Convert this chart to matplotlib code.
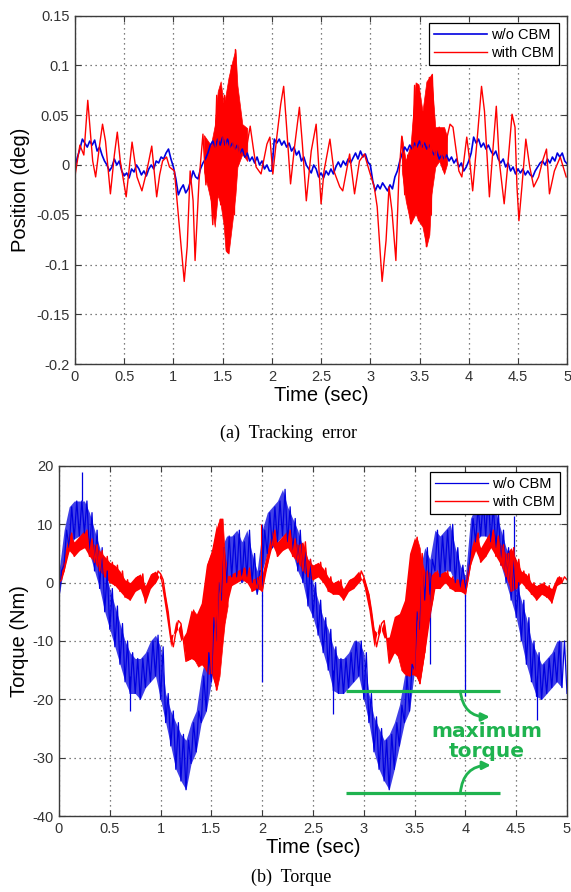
import numpy as np
import matplotlib
matplotlib.use('Agg')
import matplotlib.pyplot as plt

plt.rcParams['font.family'] = ['Liberation Sans', 'DejaVu Sans']

# ---- shared axis data ----
time_ticks = [0, 0.5, 1, 1.5, 2, 2.5, 3, 3.5, 4, 4.5, 5]
time_tick_labels = ['0', '0.5', '1', '1.5', '2', '2.5', '3', '3.5', '4', '4.5', '5']
err_ticks = [0.15, 0.1, 0.05, 0, -0.05, -0.1, -0.15, -0.2]
err_tick_labels = ['0.15', '0.1', '0.05', '0', '-0.05', '-0.1', '-0.15', '-0.2']
torque_ticks = [20, 10, 0, -10, -20, -30, -40]
torque_tick_labels = ['20', '10', '0', '-10', '-20', '-30', '-40']
series_names = ['w/o CBM', 'with CBM']

# sample times of the uniformly sampled traces (every 0.025 s)
t_uniform = np.arange(201) * 0.025

# ---- (a) tracking error, w/o CBM (deg) ----
err_wo = [
    -0.002, 0.008, 0.016, 0.026, 0.022, 0.018, 0.024, 0.02, 0.025, 0.014,
    0.018, 0.01, 0.004, 0.0, -0.006, -0.002, 0.006, 0.0, 0.004, -0.006,
    -0.011, -0.008, -0.013, -0.004, -0.007, 0.0, -0.004, -0.01, -0.006, -0.011,
    -0.004, 0.0, -0.004, 0.004, 0.002, 0.008, 0.006, 0.012, 0.016, 0.006,
    -0.002, -0.014, -0.03, -0.024, -0.02, -0.028, -0.024, -0.016, -0.006, -0.012,
    -0.014, -0.004, 0.002, 0.006, 0.012, 0.02, 0.024, 0.018, 0.026, 0.02,
    0.028, 0.02, 0.026, 0.018, 0.022, 0.016, 0.02, 0.012, 0.016, 0.008,
    0.012, 0.004, 0.008, 0.002, 0.008, 0.0, 0.004, -0.004, 0.0, -0.006,
    -0.006, 0.026, 0.022, 0.026, 0.02, 0.024, 0.018, 0.022, 0.014, 0.018,
    0.01, 0.014, 0.004, 0.008, 0.0, -0.004, -0.008, 0.0, -0.004, -0.012,
    -0.008, -0.013, -0.006, -0.01, -0.004, -0.009, -0.002, 0.003, -0.002, 0.004,
    0.0, 0.006, 0.002, 0.007, 0.012, 0.006, 0.014, 0.008, 0.011, 0.003,
    0.0, -0.016, -0.026, -0.02, -0.024, -0.018, -0.022, -0.026, -0.02, -0.024,
    -0.012, -0.006, 0.004, 0.012, 0.018, 0.014, 0.02, 0.016, 0.022, 0.018,
    0.024, 0.018, 0.022, 0.016, 0.02, 0.014, 0.01, 0.014, 0.006, 0.01,
    0.006, 0.01, 0.004, 0.008, 0.002, 0.006, -0.002, 0.002, -0.006, -0.002,
    0.004, 0.012, 0.028, 0.022, 0.026, 0.018, 0.022, 0.016, 0.02, 0.014,
    0.01, 0.014, 0.006, 0.002, 0.006, -0.002, 0.002, -0.006, -0.002, -0.009,
    -0.004, -0.008, -0.004, -0.01, -0.006, -0.01, -0.012, -0.006, -0.002, 0.002,
    0.004, 0.0, 0.006, 0.002, 0.008, 0.004, 0.012, 0.008, 0.012, 0.004, 0.001,
]

# ---- (a) tracking error, with CBM (deg), read at irregular times ----
t_err_cbm = [
    0.0, 0.05, 0.09, 0.13, 0.18, 0.21, 0.25, 0.28, 0.31, 0.36, 0.40, 0.43, 0.46,
    0.52, 0.55, 0.58, 0.63, 0.68, 0.72, 0.75, 0.78, 0.83, 0.86, 0.89, 0.93, 0.96,
    1.01, 1.06, 1.11, 1.14, 1.17, 1.20, 1.22, 1.26, 1.30,
    1.33, 1.36, 1.40, 1.44, 1.48, 1.52, 1.55, 1.59, 1.62, 1.63, 1.66, 1.70, 1.73,
    1.78, 1.81, 1.84, 1.89, 1.95, 1.98, 2.01, 2.05, 2.09, 2.12, 2.15, 2.19, 2.23,
    2.28, 2.31, 2.35, 2.40, 2.45, 2.50, 2.53, 2.59, 2.63, 2.69, 2.72, 2.79, 2.84,
    2.89, 2.94, 2.99, 3.04, 3.07, 3.12, 3.16, 3.19, 3.22, 3.26, 3.29, 3.32,
    3.35, 3.38, 3.41, 3.45, 3.49, 3.53, 3.57, 3.60, 3.62, 3.63, 3.66, 3.70, 3.74, 3.78,
    3.81, 3.84, 3.90, 3.93, 3.98, 4.01, 4.04, 4.09, 4.13, 4.16, 4.21, 4.25, 4.28,
    4.31, 4.36, 4.40, 4.44, 4.47, 4.49, 4.51, 4.54, 4.58, 4.62, 4.66, 4.71, 4.75,
    4.79, 4.82, 4.87, 4.93, 4.99,
]
err_cbm = [
    -0.011, 0.02, 0.01, 0.065, 0.004, -0.012, 0.02, 0.041, 0.024, -0.029, 0.01, 0.033, 0.004,
    -0.032, -0.005, 0.023, -0.012, -0.026, -0.01, 0.004, 0.019, -0.032, -0.01, 0.004, 0.008, -0.002,
    -0.006, -0.062, -0.117, -0.082, -0.006, -0.036, -0.096, -0.016, 0.031,
    -0.02, 0.01, -0.06, 0.07, -0.04, 0.07, -0.088, 0.1, -0.05, 0.116, 0.0, 0.04, 0.01,
    0.039, 0.018, -0.002, -0.009, 0.021, 0.028, -0.009, 0.028, 0.061, 0.079, 0.038, -0.019, 0.018,
    0.058, 0.021, -0.036, 0.014, 0.041, -0.039, -0.006, 0.026, -0.006, -0.022, -0.026, 0.011, -0.029,
    0.004, 0.011, -0.006, -0.022, -0.042, -0.117, -0.076, -0.022, -0.046, -0.096, -0.012, 0.029,
    -0.03, 0.01, -0.059, 0.08, -0.056, 0.054, -0.082, 0.088, -0.05, 0.091, 0.0, 0.038, -0.005, 0.028,
    0.041, 0.038, -0.006, -0.012, 0.028, 0.004, -0.026, 0.031, 0.079, 0.054, -0.032, 0.021, 0.059,
    0.004, -0.039, 0.004, 0.051, 0.038, -0.022, -0.056, -0.022, 0.026, -0.002, -0.022, -0.012, 0.004,
    0.016, -0.029, -0.006, 0.008, -0.012,
]

# envelopes of the fast-oscillating bursts (with CBM)
t_err_burst1 = [1.31, 1.38, 1.42, 1.45, 1.48, 1.51, 1.53, 1.56, 1.60, 1.63, 1.65, 1.70, 1.75]
err_burst1_hi = [0.03, 0.02, 0.04, 0.074, 0.084, 0.061, 0.07, 0.088, 0.105, 0.116, 0.08, 0.041, 0.037]
err_burst1_lo = [-0.006, -0.036, -0.062, -0.03, -0.04, -0.06, -0.086, -0.089, -0.056, -0.03, -0.002, 0.011, 0.004]
t_err_burst2 = [3.32, 3.36, 3.41, 3.46, 3.49, 3.53, 3.57, 3.60, 3.62, 3.66, 3.70, 3.75, 3.78]
err_burst2_hi = [0.029, 0.004, 0.021, 0.083, 0.081, 0.054, 0.084, 0.088, 0.091, 0.038, 0.038, 0.038, 0.028]
err_burst2_lo = [-0.006, -0.036, -0.059, -0.049, -0.056, -0.062, -0.082, -0.07, -0.03, -0.002, 0.004, -0.009, 0.001]

# ---- (b) torque, w/o CBM (Nm): alternating low / high of the noise band ----
torque_wo = [
    -2.5, 2, 3, 9, 6, 13, 7.5, 14, 8, 14, 8.5, 14, 5, 12, 2, 9, -1, 6, -5, 2,
    -8, -1, -11, -4, -14, -7, -17, -10, -19, -12, -19, -13, -20, -13, -18, -12, -17, -10, -16, -9,
    -20, -11, -24, -19, -28, -22, -32, -24, -34, -26, -35.5, -27, -31, -24, -29, -22, -24, -16, -22, -12,
    -17, -6, -10, 0, -3, 6, 0, 8, 1, 8, 1, 9, 0, 7, 1, 9, 0, 5, -2, 2,
    2, 9, 5, 12, 6, 13, 7, 14, 8, 16, 7, 13, 5, 11, 2, 9, 0, 6, -4, 4,
    -6, 0, -9, -3, -12, -6, -15, -8, -18.5, -11, -19, -13, -19, -13, -18, -12, -17, -10, -16, -10,
    -20, -12, -24, -19, -29, -23, -32, -25, -34, -27, -35.5, -26, -32, -24, -28, -21, -24, -16, -22, -14,
    -15, -5, -8, 2, -3, 6, -2, 4, 2, 9, 1, 8, 2, 9, 2, 10, 0, 6, -1, 3,
    -1, 1, 5, 11, 7, 13, 8, 14, 8, 15, 7, 13, 6, 12, 3, 9, 0, 6, -3, 4,
    -6, 0, -10, -3, -14, -6, -17, -10, -19.5, -12, -20, -14, -19, -13, -18, -12, -17, -10, -18, -10, -19,
]
# isolated single-sample spikes (time, from, to)
wo_spike_t = [0.225, 0.70, 2.0, 2.70, 3.65, 4.0, 4.475, 4.70]
wo_spike_from = [14, -16, -17, -15, 0, 0, 2, -16]
wo_spike_to = [19, -22, 10, -22.5, -14, -19.5, 11.5, -23.5]

# ---- (b) torque, with CBM (Nm) ----
torque_cbm = [
    0, 0.5, 2, 4.5, 5.5, 8.5, 4.5, 7, 5.5, 8, 6, 9, 4.5, 7.5, 3.5, 6.5, 2, 5.5, 1, 4.5,
    0, 3.5, -0.5, 3, -1.5, 2, -2.5, 0.5, -3, 0, -1.5, 1, -1, 1.5, -3.5, -0.5, -1, 1.5, 0, 2,
    1.5, 0.5, -2.5, -5, -9, -11, -8.5, -6.5, -7, -10, -13.5, -8.5, -13, -4.7, -13.5, -5.5, -14, -3.5, -15, 3,
    -15.6, 5.5, -18.4, 10, -11, 6, -4, 1, -0.5, 1.5, 0, 2, 0.5, 2.5, 0, 2.5, -1.5, 0.5, -1, 1,
    -1.5, 1.5, 3, 5.5, 6.5, 9, 4.5, 7, 5.5, 8, 6, 9, 4.5, 7.5, 3.5, 6.5, 2, 7, 1, 4,
    0.5, 3, 1, 3.5, 0, 2.5, -1.5, 1, -2, 0, -2, 0.5, -3, -1, -1.5, 0.5, -1, 1, 0, 2,
    1, -0.5, -2, -4.7, -8, -11, -9, -7, -6.5, -9.5, -13.8, -9.3, -12, -5.8, -13, -5.3, -15.5, -3, -16, 5,
    -15.6, 7.8, -17.3, 5, -12, 2, -6, 1, -1, 2, -1, 1.5, 0, 2, -1, 1, -1.5, 0.5, -1.5, 0.5,
    -2, 0.5, 3, 5.5, 5.5, 8.5, 3.5, 6, 4.5, 7.5, 6, 9, 4.5, 8, 3, 6.5, 1, 5, -1.5, 6,
    -1, 4, 0, 2, -1, 1.5, -2, 0, -3, -0.5, -2, 0, -2.5, -0.5, -3.5, -1, -0.5, 1, 0, 1, 0.5,
]
cbm_spike_t = [1.99]
cbm_spike_from = [0]
cbm_spike_to = [10]

# envelopes of the fast-oscillating bursts (with CBM)
t_tq_burst1 = [1.26, 1.32, 1.37, 1.42, 1.46, 1.51, 1.55, 1.58, 1.61, 1.63, 1.66]
tq_burst1_hi = [-8.5, -4.7, -5.8, -3.5, 3.2, 5.5, 9, 11, 11, 5, 1]
tq_burst1_lo = [-13.3, -12.8, -14.4, -13.8, -15.6, -15.6, -18.4, -16, -10.4, -7, -4]
t_tq_burst2 = [3.26, 3.32, 3.37, 3.42, 3.47, 3.52, 3.55, 3.59, 3.63, 3.68]
tq_burst2_hi = [-9.3, -5.8, -5.3, -3, 5, 7.8, 6, 0.4, 2, 1]
tq_burst2_lo = [-12.7, -11.5, -15, -16, -15.6, -16, -17.3, -12.7, -7, -2.5]

# "maximum torque" markers
max_torque_levels = [-18.6, -36.1]
max_torque_span = [2.82, 4.34]

blue = '#0000e0'
red = '#ff0000'
green = '#1fb34f'
frame = '#3c3c3c'


def style_axes(ax, yticks, ylabels, ylim):
    ax.set_xlim(0, 5)
    ax.set_ylim(ylim)
    ax.set_xticks(time_ticks)
    ax.set_xticklabels(time_tick_labels)
    ax.set_yticks(yticks)
    ax.set_yticklabels(ylabels)
    ax.grid(True, linestyle=(0, (1, 3)), color='#555555', linewidth=0.9)
    ax.set_axisbelow(True)
    ax.tick_params(direction='in', top=True, right=True, length=4, width=0.8,
                   labelsize=10.5, labelcolor='#333333', color=frame, pad=4)
    for s in ax.spines.values():
        s.set_color(frame)
        s.set_linewidth(1.0)


def noisy_band(ax, values, color, alpha):
    # the traces alternate low/high samples; shade between neighbouring pairs
    v = np.asarray(values)
    ax.fill_between(t_uniform[0:200:2], v[0:200:2], v[1:201:2], color=color,
                    alpha=alpha, lw=0)


fig = plt.figure(figsize=(5.71, 8.92), dpi=100)

# ---- top panel ----
ax1 = fig.add_axes([0.1313, 0.5919, 0.862, 0.3905])
ax1.plot(t_uniform, err_wo, color=blue, lw=1.2, label=series_names[0])
ax1.plot(t_err_cbm, err_cbm, color=red, lw=1.0, label=series_names[1])
ax1.fill_between(t_err_burst1, err_burst1_lo, err_burst1_hi, color=red, lw=0.5)
ax1.fill_between(t_err_burst2, err_burst2_lo, err_burst2_hi, color=red, lw=0.5)
style_axes(ax1, err_ticks, err_tick_labels, (-0.2, 0.15))
ax1.set_xlabel('Time (sec)', fontsize=14.5, labelpad=2)
ax1.set_ylabel('Position (deg)', fontsize=14.5, labelpad=4)
leg1 = ax1.legend(loc='upper right', bbox_to_anchor=(0.984, 0.979), fontsize=10.5,
                  fancybox=False, framealpha=1, edgecolor='black', borderaxespad=0,
                  handlelength=3.6, handletextpad=0.3, borderpad=0.35, labelspacing=0.25)
leg1.get_frame().set_linewidth(0.9)
fig.text(0.505, 1 - 433 / 892, '(a)  Tracking  error', ha='center', va='center',
         fontsize=13, family='Liberation Serif')

# ---- bottom panel ----
ax2 = fig.add_axes([0.1033, 0.0852, 0.8897, 0.3924])
noisy_band(ax2, torque_wo, blue, 0.75)
ax2.plot(t_uniform, torque_wo, color=blue, lw=0.9, label=series_names[0])
ax2.vlines(wo_spike_t, wo_spike_from, wo_spike_to, color=blue, lw=0.9)
noisy_band(ax2, torque_cbm, red, 1.0)
ax2.plot(t_uniform, torque_cbm, color=red, lw=1.0, label=series_names[1])
ax2.vlines(cbm_spike_t, cbm_spike_from, cbm_spike_to, color=red, lw=0.8)
ax2.fill_between(t_tq_burst1, tq_burst1_lo, tq_burst1_hi, color=red, lw=0.5)
ax2.fill_between(t_tq_burst2, tq_burst2_lo, tq_burst2_hi, color=red, lw=0.5)
style_axes(ax2, torque_ticks, torque_tick_labels, (-40, 20))
ax2.set_xlabel('Time (sec)', fontsize=14.5, labelpad=2)
ax2.set_ylabel('Torque (Nm)', fontsize=14.5, labelpad=2)
leg2 = ax2.legend(loc='upper right', bbox_to_anchor=(0.986, 0.983), fontsize=10.5,
                  fancybox=False, framealpha=1, edgecolor='black', borderaxespad=0,
                  handlelength=3.6, handletextpad=0.3, borderpad=0.35, labelspacing=0.25)
leg2.get_frame().set_linewidth(0.9)

for lvl in max_torque_levels:
    ax2.plot(max_torque_span, [lvl, lvl], color=green, lw=2.3, solid_capstyle='butt')
ax2.text(4.21, -27.2, 'maximum\ntorque', color=green, fontsize=14.5, fontweight='bold',
         family='DejaVu Sans', ha='center', va='center', linespacing=1.05)
ax2.annotate('', xy=(4.24, -23.0), xytext=(3.95, max_torque_levels[0]),
             arrowprops=dict(arrowstyle='-|>', color=green, lw=2.0, mutation_scale=12,
                             connectionstyle='arc3,rad=0.45', shrinkA=0, shrinkB=0))
ax2.annotate('', xy=(4.25, -31.3), xytext=(3.95, max_torque_levels[1]),
             arrowprops=dict(arrowstyle='-|>', color=green, lw=2.0, mutation_scale=12,
                             connectionstyle='arc3,rad=-0.45', shrinkA=0, shrinkB=0))
fig.text(0.51, 1 - 877 / 892, '(b)  Torque', ha='center', va='center',
         fontsize=13, family='Liberation Serif')

fig.savefig('out.png', dpi=100)
